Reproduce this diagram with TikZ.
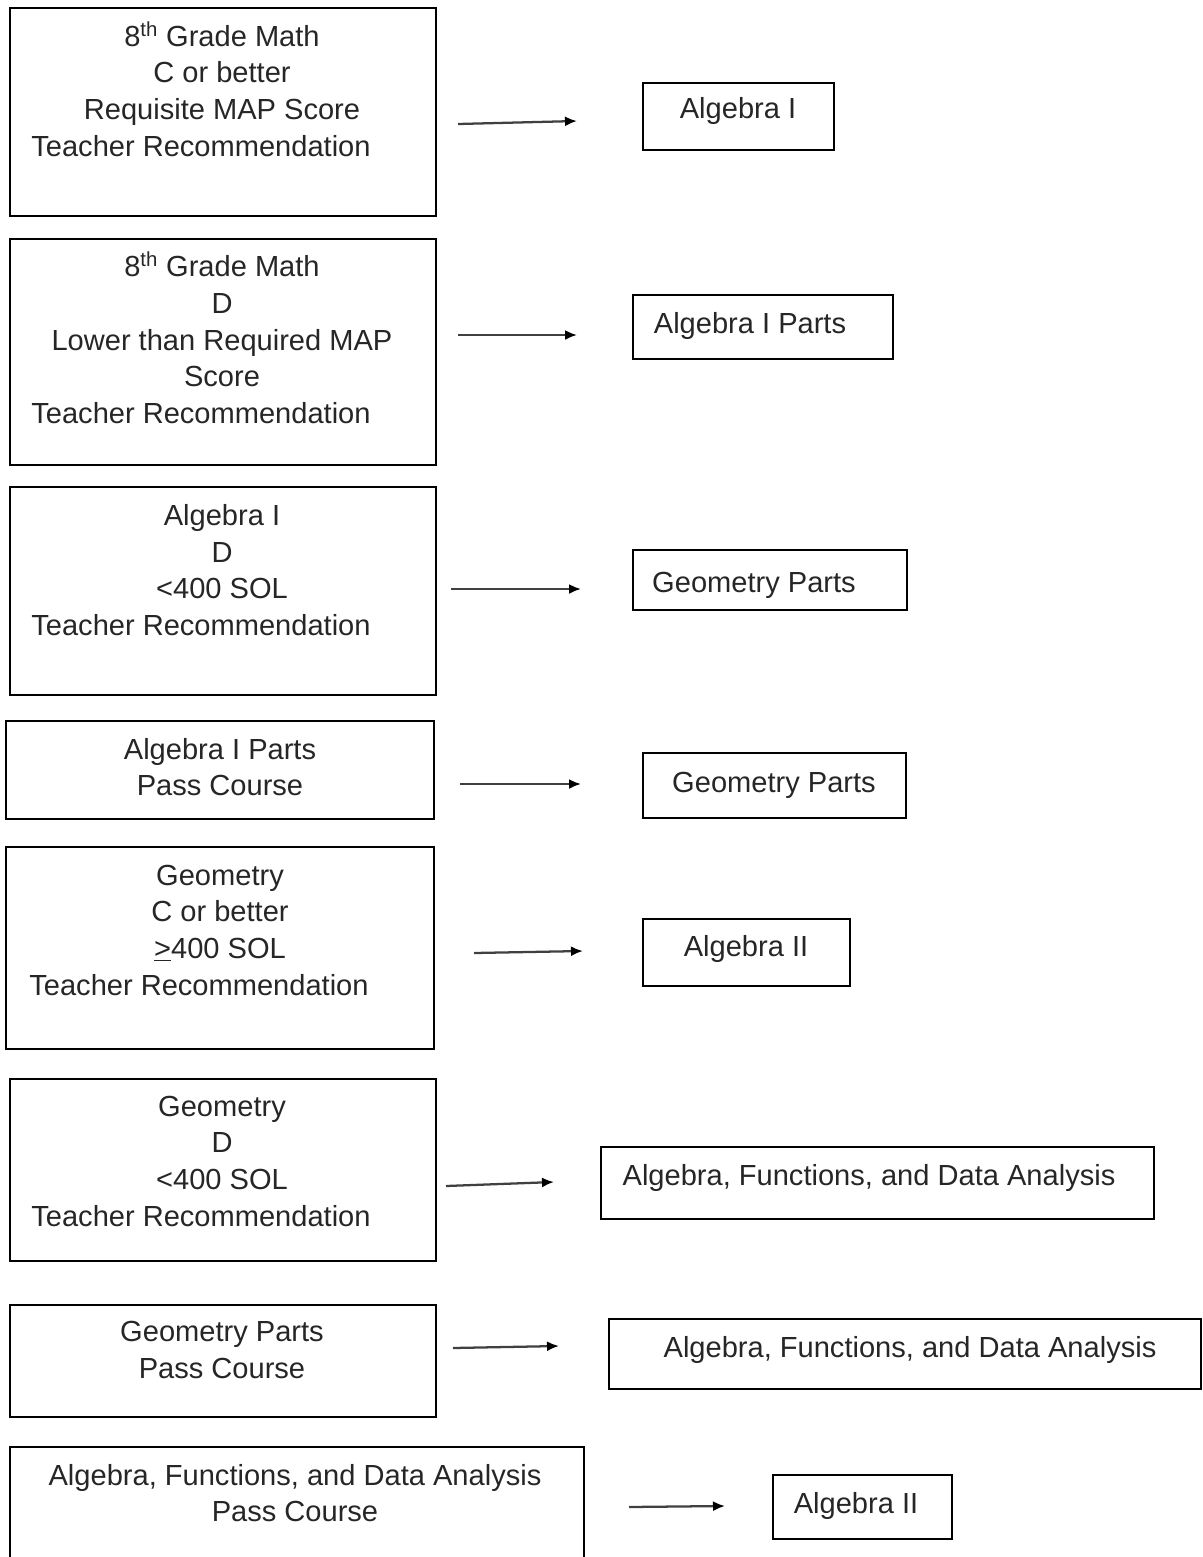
\documentclass[tikz,border=0pt]{standalone}
\usepackage{fontspec}
\setmainfont{Liberation Sans}
\usetikzlibrary{arrows.meta}

\tikzset{
  box/.style={line width=1.1pt},
  txt/.style={align=center, font=\fontsize{21.8}{27.5}\selectfont, inner sep=0pt, text=black!85},
  arr/.style={line width=1.7pt, draw=black!75, -{Latex[length=9pt,width=7.5pt,black]}},
}
\newcommand{\trail}{\hspace*{31.5pt}}

\begin{document}
\begin{tikzpicture}[x=0.75pt,y=0.75pt,yscale=-1]
\useasboundingbox (0,0) rectangle (1203,1557);

%Left boxes
\draw [box] (10,8) rectangle (436,216);
\draw [box] (10,239) rectangle (436,465);
\draw [box] (10,487) rectangle (436,695);
\draw [box] (6,721) rectangle (434,819);
\draw [box] (6,847) rectangle (434,1049);
\draw [box] (10,1079) rectangle (436,1261);
\draw [box] (10,1305) rectangle (436,1417);
\draw [box] (10,1560) -- (10,1447) -- (584,1447) -- (584,1560);

%Right boxes
\draw [box] (643,83) rectangle (834,150);
\draw [box] (633,295) rectangle (893,359);
\draw [box] (633,550) rectangle (907,610);
\draw [box] (643,753) rectangle (906,818);
\draw [box] (643,919) rectangle (850,986);
\draw [box] (601,1147) rectangle (1154,1219);
\draw [box] (609,1319) rectangle (1201,1389);
\draw [box] (773,1475) rectangle (952,1539);

% Text Node
\node [txt] (l1) at (222,89) {8\textsuperscript{th} Grade Math\\C or better\\Requisite MAP Score\\Teacher Recommendation\trail};
% Text Node
\node [txt] (l2) at (222,338) {8\textsuperscript{th} Grade Math\\D\\Lower than Required MAP\\Score\\Teacher Recommendation\trail};
% Text Node
\node [txt] (l3) at (222,570) {Algebra I\\D\\<400 SOL\\Teacher Recommendation\trail};
% Text Node
\node [txt] (l4) at (220,767) {Algebra I Parts\\Pass Course};
% Text Node
\node [txt] (l5) at (220,930) {Geometry\\C or better\\\underline{>}400 SOL\\Teacher Recommendation\trail};
% Text Node
\node [txt] (l6) at (222,1161) {Geometry\\D\\<400 SOL\\Teacher Recommendation\trail};
% Text Node
\node [txt] (l7) at (222,1350) {Geometry Parts\\Pass Course};
% Text Node
\node [txt] (l8) at (295,1493) {Algebra, Functions, and Data Analysis\\Pass Course};

% Text Node
\node [txt] (r1) at (738,111) {Algebra I};
% Text Node
\node [txt] (r2) at (750,326) {Algebra I Parts};
% Text Node
\node [txt] (r3) at (754,585) {Geometry Parts};
% Text Node
\node [txt] (r4) at (774,785) {Geometry Parts};
% Text Node
\node [txt] (r5) at (746,949) {Algebra II};
% Text Node
\node [txt] (r6) at (869,1178) {Algebra, Functions, and Data Analysis};
% Text Node
\node [txt] (r7) at (910,1350) {Algebra, Functions, and Data Analysis};
% Text Node
\node [txt] (r8) at (856,1506) {Algebra II};

%Arrows
\coordinate (a1s) at (458,124); \coordinate (a1e) at (577,121);
\coordinate (a2s) at (458,335); \coordinate (a2e) at (577,335);
\coordinate (a3s) at (451,589); \coordinate (a3e) at (581,589);
\coordinate (a4s) at (460,784); \coordinate (a4e) at (581,784);
\coordinate (a5s) at (474,953); \coordinate (a5e) at (583,951);
\coordinate (a6s) at (446,1186); \coordinate (a6e) at (554,1182);
\coordinate (a7s) at (453,1348); \coordinate (a7e) at (559,1346);
\coordinate (a8s) at (629,1507); \coordinate (a8e) at (725,1506);
\foreach \i in {1,...,8}
  \draw [arr] (a\i s) -- (a\i e);

\end{tikzpicture}
\end{document}
